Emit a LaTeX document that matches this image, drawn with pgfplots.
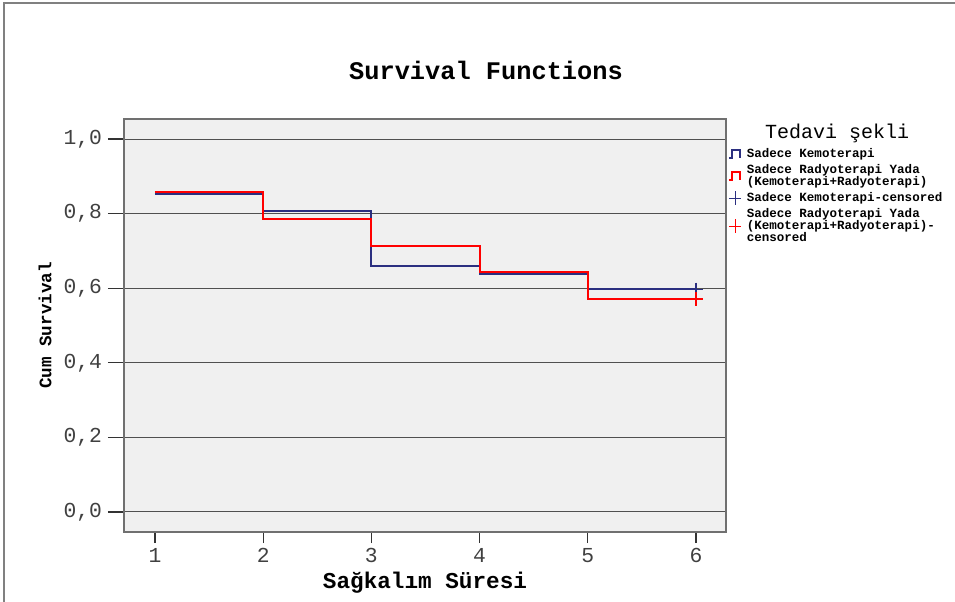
\documentclass[border=0pt]{standalone}
\usepackage{pgfplots}
\pgfplotsset{compat=1.18}
\usepackage{fontspec}
\setmainfont{Liberation Mono}
\setmonofont{Liberation Mono}

\definecolor{kemo}{HTML}{2B2F80}
\definecolor{radyo}{HTML}{FF0000}
\definecolor{panel}{HTML}{F0F0F0}
\definecolor{gridc}{HTML}{505050}
\definecolor{framec}{HTML}{707070}

% Kaplan-Meier estimates (time, cumulative survival)
\pgfplotstableread{
t    s
1    0.853
2    0.807
3    0.660
4    0.638
5    0.597
6    0.597
}\kemoterapi
\pgfplotstableread{
t    s
1    0.857
2    0.786
3    0.714
4    0.643
5    0.571
6    0.571
}\radyoterapi

\begin{document}
\begin{tikzpicture}
  \useasboundingbox (0pt,0pt) rectangle (716.25pt,451.5pt);
  % outer frame
  \draw[gray, line width=1.2pt] (3pt,0pt) -- (3pt,449.25pt) -- (716.25pt,449.25pt);

  \begin{axis}[
    at={(93pt,52.5pt)}, anchor=south west,
    scale only axis,
    width=451.5pt, height=309.75pt,
    xmin=0.714, xmax=6.277,
    ymin=-0.054, ymax=1.054,
    axis background/.style={fill=panel},
    axis line style={framec, line width=1.5pt},
    xtick={1,2,3,4,5,6},
    xticklabels={1,2,3,4,5,6},
    ytick={0,0.2,0.4,0.6,0.8,1.0},
    yticklabels={{0,0},{0,2},{0,4},{0,6},{0,8},{1,0}},
    xtick pos=bottom, ytick pos=left,
    tick align=outside,
    major tick length=12pt,
    tick style={black!80, line width=1pt},
    xtick style={/pgfplots/major tick length=8.25pt},
    ymajorgrids,
    major grid style={gridc, line width=0.9pt},
    tick label style={font=\fontsize{16}{18}\selectfont, text=black!75},
    yticklabel style={xshift=-1pt},
    xticklabel style={yshift=3.5pt},
    xlabel={\bfseries Sağkalım Süresi},
    ylabel={\bfseries Cum Survival},
    xlabel style={font=\fontsize{17}{18}\selectfont, at={(axis description cs:0.5,-0.122)}, anchor=center},
    ylabel style={font=\fontsize{13.2}{15}\selectfont, at={(axis description cs:-0.131,0.5)}, anchor=center},
    legend style={
      at={(axis description cs:1.0,0.932)}, anchor=north west,
      draw=none, fill=none,
      font=\bfseries\fontsize{9.4}{9}\selectfont,
      row sep=1.5pt, inner xsep=1pt, inner ysep=0pt,
      cells={anchor=west, align=left},
      nodes={inner sep=1pt},
    },
    legend cell align=left,
  ]
    \addplot[const plot, kemo, line width=1.6pt,
      legend image code/.code={\path[draw=none] (0pt,0pt) -- (12.5pt,0pt);
        \draw[kemo, line width=1.8pt] (0pt,-3pt) -- (2.5pt,-3pt) -- (2.5pt,3pt) -- (8.5pt,3pt) -- (8.5pt,-3pt);}]
      table[x=t, y=s] {\kemoterapi};
    \addlegendentry{Sadece Kemoterapi}
    \addplot[const plot, radyo, line width=1.6pt,
      legend image code/.code={\path[draw=none] (0pt,0pt) -- (12.5pt,0pt);
        \draw[radyo, line width=1.8pt] (0pt,-3pt) -- (2.5pt,-3pt) -- (2.5pt,3pt) -- (8.5pt,3pt) -- (8.5pt,-3pt);}]
      table[x=t, y=s] {\radyoterapi};
    \addlegendentry{Sadece Radyoterapi Yada\\(Kemoterapi+Radyoterapi)}
    % censored observations
    \addplot[only marks, mark=+, mark size=5pt, kemo, mark options={line width=1pt},
      legend image code/.code={\path[draw=none] (0pt,0pt) -- (12.5pt,0pt);
        \draw[kemo, line width=0.8pt] (0pt,0pt) -- (9.5pt,0pt) (4.75pt,-5pt) -- (4.75pt,5pt);}]
      coordinates {(6,0.597)};
    \addlegendentry{Sadece Kemoterapi-censored}
    \addplot[only marks, mark=+, mark size=5pt, radyo, mark options={line width=1.3pt},
      legend image code/.code={\path[draw=none] (0pt,0pt) -- (12.5pt,0pt);
        \draw[radyo, line width=0.8pt] (0pt,0pt) -- (9.5pt,0pt) (4.75pt,-5pt) -- (4.75pt,5pt);}]
      coordinates {(6,0.571)};
    \addlegendentry{Sadece Radyoterapi Yada\\(Kemoterapi+Radyoterapi)-\\censored}
  \end{axis}

  \node[font=\bfseries\fontsize{19}{22}\selectfont] at (364.5pt,399pt) {Survival Functions};
  \node[font=\fontsize{15}{18}\selectfont] at (627.75pt,351.75pt) {Tedavi şekli};
\end{tikzpicture}
\end{document}
